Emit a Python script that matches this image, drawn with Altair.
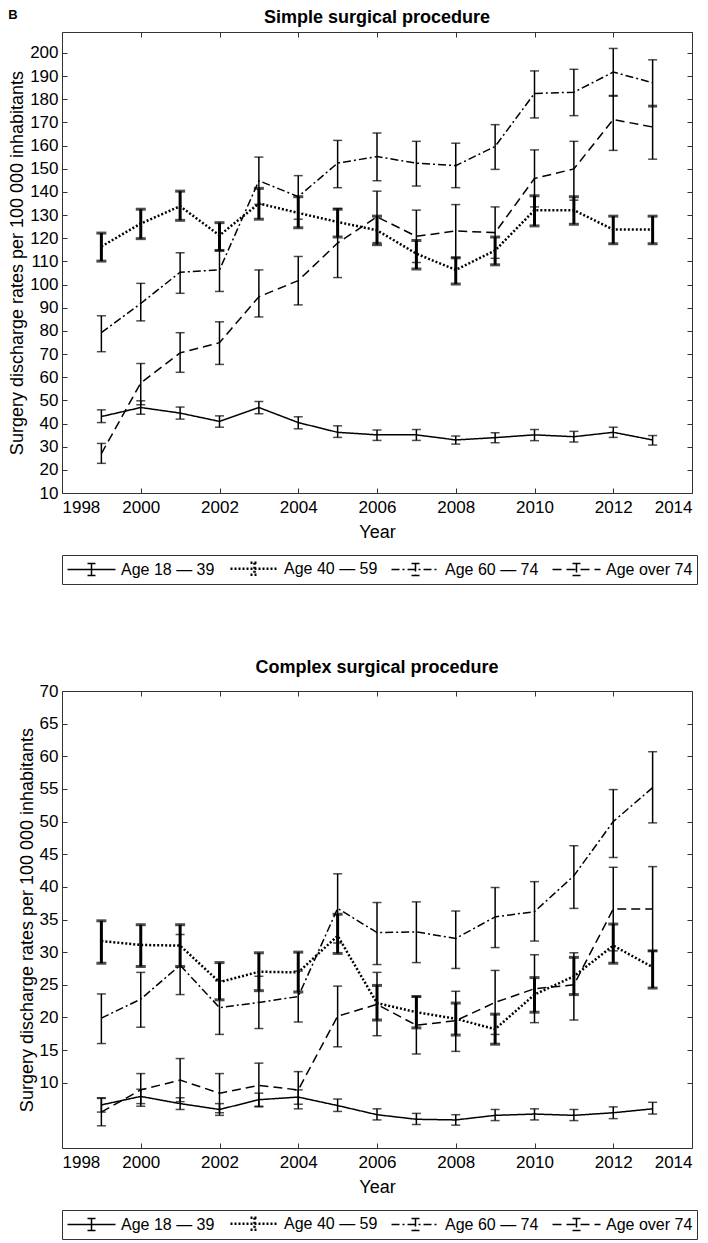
import altair as alt
import pandas as pd

years = list(range(1999, 2014))
groups = ["Age 18 — 39", "Age 40 — 59", "Age 60 — 74", "Age over 74"]
x_ticks = list(range(1998, 2015, 2))

# ---- Simple surgical procedure ----
simple_mean = [
    [43.0, 46.9, 44.5, 40.9, 46.9, 40.4, 36.2, 35.1, 35.1, 32.9, 33.9, 35.1, 34.3, 36.2, 32.9],
    [116.4, 126.3, 133.8, 121.2, 135.0, 130.9, 127.0, 123.4, 113.3, 106.3, 114.7, 132.1, 132.1, 123.7, 123.7],
    [79.2, 91.8, 105.3, 106.3, 144.8, 137.9, 152.4, 155.2, 152.4, 151.3, 159.6, 182.5, 183.0, 191.7, 187.1],
    [27.0, 57.5, 70.5, 74.9, 94.7, 101.7, 117.9, 129.2, 120.8, 123.1, 122.4, 145.8, 149.9, 171.2, 168.0],
]
simple_lo = [
    [40.4, 44.0, 41.9, 38.4, 44.2, 37.7, 34.0, 32.7, 32.7, 31.1, 31.7, 32.6, 32.0, 34.0, 30.7],
    [110.1, 119.8, 127.7, 114.7, 128.2, 124.5, 120.5, 117.2, 106.7, 100.2, 108.5, 125.3, 126.0, 117.6, 117.6],
    [71.0, 84.3, 96.2, 97.0, 134.6, 128.2, 141.8, 144.8, 142.5, 141.8, 149.7, 171.9, 172.9, 181.3, 176.7],
    [22.8, 48.1, 62.1, 65.5, 86.0, 91.2, 103.0, 118.1, 109.5, 111.7, 111.3, 133.5, 136.4, 157.9, 154.1],
]
simple_hi = [
    [45.9, 49.8, 47.1, 43.3, 49.5, 42.9, 39.0, 37.2, 37.4, 34.6, 36.0, 37.4, 36.6, 38.4, 34.8],
    [122.2, 132.5, 140.3, 126.7, 141.5, 137.9, 132.5, 129.5, 119.0, 111.5, 120.5, 138.3, 137.9, 129.5, 129.5],
    [86.5, 100.5, 113.7, 114.7, 155.0, 147.0, 162.2, 165.4, 161.8, 161.0, 169.0, 192.2, 192.9, 201.9, 197.0],
    [31.4, 65.9, 79.2, 83.9, 106.3, 112.1, 132.8, 140.3, 132.1, 134.5, 133.5, 158.1, 161.8, 181.6, 177.3],
]
simple_y_ticks = list(range(10, 201, 10))

# ---- Complex surgical procedure ----
complex_mean = [
    [6.6, 7.9, 6.8, 5.9, 7.4, 7.8, 6.5, 5.1, 4.4, 4.3, 5.0, 5.2, 5.0, 5.4, 6.0],
    [31.7, 31.1, 31.0, 25.4, 27.0, 26.9, 32.5, 22.2, 20.8, 19.8, 18.2, 23.5, 26.3, 31.0, 27.7],
    [19.9, 22.8, 28.0, 21.5, 22.3, 23.2, 36.7, 33.0, 33.1, 32.1, 35.4, 36.2, 41.7, 50.0, 55.2],
    [5.5, 8.9, 10.4, 8.4, 9.6, 8.9, 20.2, 22.0, 18.8, 19.5, 22.3, 24.4, 25.0, 36.6, 36.6],
]
complex_lo = [
    [5.5, 6.8, 5.9, 5.0, 6.4, 6.7, 5.6, 4.3, 3.6, 3.5, 4.2, 4.3, 4.2, 4.5, 5.2],
    [28.3, 27.8, 27.8, 22.7, 24.1, 23.9, 29.8, 19.6, 18.4, 17.3, 15.9, 20.8, 23.5, 28.3, 24.5],
    [16.0, 18.5, 23.5, 17.4, 18.3, 19.3, 31.4, 28.1, 28.4, 27.5, 30.7, 31.7, 36.7, 44.5, 49.8],
    [3.4, 6.4, 7.1, 5.4, 6.3, 6.0, 15.5, 17.2, 14.4, 14.8, 17.4, 19.2, 19.6, 30.2, 30.2],
]
complex_hi = [
    [7.7, 9.0, 7.7, 6.8, 8.4, 8.9, 7.5, 6.0, 5.3, 5.1, 5.9, 6.0, 5.9, 6.3, 7.0],
    [34.8, 34.2, 34.2, 28.4, 29.9, 30.0, 35.8, 24.9, 23.2, 22.2, 20.5, 26.1, 29.2, 34.3, 30.2],
    [23.6, 26.9, 32.7, 25.6, 26.3, 27.1, 42.0, 37.6, 37.7, 36.3, 39.9, 40.8, 46.3, 54.9, 60.7],
    [7.6, 11.4, 13.7, 11.4, 13.0, 11.7, 24.8, 26.9, 23.2, 24.0, 27.2, 29.6, 29.9, 43.0, 43.1],
]
complex_y_ticks = list(range(10, 71, 5))

FONT = "Liberation Sans"
PANEL_LABEL = "B"
Y_TITLE = "Surgery discharge rates per 100 000 inhabitants"
dash_range = [[1, 0], [2, 2], [8, 3, 2, 3], [9, 5]]
width_range = [1.5, 2.5, 1.5, 1.5]
# legend sample: a line with an error-bar glyph in its middle
legend_path = "M-3,0H3M0,-0.75V0.75M-0.5,-0.75H0.5M-0.5,0.75H0.5"


def make_df(means, los, his):
    rows = []
    for g, m, lo, hi in zip(groups, means, los, his):
        for yr, a, b, c in zip(years, m, lo, hi):
            rows.append({"year": yr, "group": g, "rate": a, "lo": b, "hi": c})
    return pd.DataFrame(rows)


def panel(df, title, ydomain, yticks, height):
    xs = alt.Scale(domain=[1998, 2014], nice=False, zero=False)
    ys = alt.Scale(domain=ydomain, nice=False, zero=False)
    base = alt.Chart(df)
    lines = base.mark_line(color="black").encode(
        x=alt.X("year:Q", scale=xs, axis=alt.Axis(
            values=x_ticks, format="d", title="Year", orient="bottom",
            offset=-5, tickSize=5, domain=False, grid=False,
            labelPadding=6, titlePadding=8)),
        y=alt.Y("rate:Q", scale=ys, axis=alt.Axis(
            values=yticks, title=Y_TITLE, orient="left",
            offset=-5, tickSize=5, domain=False, grid=False,
            labelPadding=4, titlePadding=3)),
        strokeDash=alt.StrokeDash("group:N", scale=alt.Scale(domain=groups, range=dash_range),
                                  legend=alt.Legend(
                                      title=None, orient="none", legendX=0, legendY=height + 62,
                                      direction="horizontal", columns=4,
                                      symbolType=legend_path, symbolSize=256, symbolOffset=16,
                                      symbolStrokeColor="black", symbolStrokeWidth=1.5,
                                      labelFont=FONT, labelFontSize=16, labelColor="black",
                                      labelOffset=20, labelLimit=300, columnPadding=10,
                                      padding=4, strokeColor="#333", fillColor="white")),
        strokeWidth=alt.StrokeWidth("group:N",
                                    scale=alt.Scale(type="ordinal", domain=groups, range=width_range),
                                    legend=None),
    )
    thin = base.transform_filter(alt.datum.group != groups[1]).mark_errorbar(
        ticks=True, size=9, thickness=1.5, color="black", orient="vertical").encode(
        x=alt.X("year:Q", scale=xs, axis=alt.Axis(
            values=x_ticks, orient="top", labels=False, title=None,
            offset=-5, tickSize=5, domain=False, grid=False)),
        y=alt.Y("lo:Q", scale=ys, axis=alt.Axis(
            values=yticks, orient="right", labels=False, title=None,
            offset=-5, tickSize=5, domain=False, grid=False)),
        y2="hi:Q",
    )
    thick = base.transform_filter(alt.datum.group == groups[1]).mark_errorbar(
        ticks=True, size=10, thickness=3, color="black", orient="vertical").encode(
        x=alt.X("year:Q", scale=xs, axis=None),
        y=alt.Y("lo:Q", scale=ys, axis=None),
        y2="hi:Q",
    )
    return alt.layer(lines, thin, thick).resolve_axis(x="independent", y="independent").properties(
        width=630, height=height,
        title=alt.TitleParams(title, font=FONT, fontSize=18, fontWeight="bold",
                              color="black", offset=5, anchor="middle"),
    )


top = panel(make_df(simple_mean, simple_lo, simple_hi), "Simple surgical procedure",
            [10, 209], simple_y_ticks, 461)
bottom = panel(make_df(complex_mean, complex_lo, complex_hi), "Complex surgical procedure",
               [0, 70], complex_y_ticks, 457)

chart = alt.vconcat(top, bottom, spacing=73).resolve_scale(
    strokeDash="independent", strokeWidth="independent").resolve_legend(
    strokeDash="independent").properties(
    padding=0,
    title=alt.TitleParams(PANEL_LABEL, font=FONT, fontSize=13, fontWeight="bold",
                          color="black", anchor="start", frame="bounds", offset=0, dy=14),
).configure_view(
    stroke="#333", strokeWidth=1).configure_axis(
    labelFont=FONT, titleFont=FONT, labelFontSize=17, titleFontSize=18,
    labelColor="black", titleColor="black", tickColor="#333",
    titleFontWeight="normal")

chart.save("out.html", embed_options={"renderer": "svg", "actions": False})
